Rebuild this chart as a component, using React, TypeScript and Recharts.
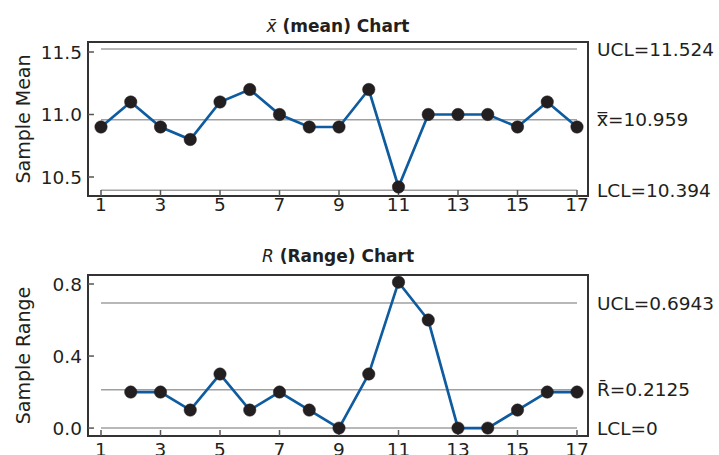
import {
  Line,
  LineChart,
  ReferenceArea,
  ReferenceLine,
  XAxis,
  YAxis,
} from "recharts";

const samples = [1, 2, 3, 4, 5, 6, 7, 8, 9, 10, 11, 12, 13, 14, 15, 16, 17];
const sampleMeans = [
  10.9, 11.1, 10.9, 10.8, 11.1, 11.2, 11.0, 10.9, 10.9, 11.2, 10.42, 11.0, 11.0,
  11.0, 10.9, 11.1, 10.9,
];
const sampleRanges = [
  null, 0.2, 0.2, 0.1, 0.3, 0.1, 0.2, 0.1, 0.0, 0.3, 0.81, 0.6, 0.0, 0.0, 0.1,
  0.2, 0.2,
];
const xTicks = [1, 3, 5, 7, 9, 11, 13, 15, 17];
const meanTicks = [10.5, 11.0, 11.5];
const rangeTicks = [0, 0.4, 0.8];
const meanLimitValues = [11.524, 10.959, 10.394];
const meanLimitLabels = ["UCL=11.524", "x\u033F=10.959", "LCL=10.394"];
const rangeLimitValues = [0.6943, 0.2125, 0];
const rangeLimitLabels = ["UCL=0.6943", "R\u0304=0.2125", "LCL=0"];

const FONT = "'DejaVu Sans', sans-serif";
const LINE_BLUE = "#0e5c9f";
const DOT_BLACK = "#231f20";
const FRAME = "#333333";
const LIMIT_GRAY = "#a0a0a0";
const X_DOMAIN: [number, number] = [0.563, 17.37];

const meanData = samples.map((s, i) => ({ sample: s, value: sampleMeans[i] }));
const rangeData = samples.map((s, i) => ({ sample: s, value: sampleRanges[i] }));

const tickStyle = { fill: "#231f20", fontSize: 18.5, fontFamily: FONT };

interface ControlChartProps {
  data: { sample: number; value: number | null }[];
  height: number;
  top: number;
  yDomain: [number, number];
  yTicks: number[];
  yLabel: string;
  limits: number[];
  limitLabels: string[];
  xTickMargin: number;
}

function ControlChart({
  data,
  height,
  top,
  yDomain,
  yTicks,
  yLabel,
  limits,
  limitLabels,
  xTickMargin,
}: ControlChartProps) {
  return (
    <LineChart
      width={719}
      height={height}
      data={data}
      margin={{ top, right: 131, bottom: 0, left: 0 }}
      style={{ fontFamily: FONT }}
    >
      <XAxis
        dataKey="sample"
        type="number"
        domain={X_DOMAIN}
        ticks={xTicks}
        allowDataOverflow
        height={19}
        tickSize={-6}
        tickMargin={xTickMargin}
        interval={0}
        tick={tickStyle}
        axisLine={{ stroke: FRAME, strokeWidth: 2 }}
        tickLine={{ stroke: "#555", strokeWidth: 1.5 }}
      />
      <YAxis
        type="number"
        domain={yDomain}
        ticks={yTicks}
        allowDataOverflow
        width={88}
        tickSize={-6}
        tickMargin={12}
        interval={0}
        tick={tickStyle}
        tickFormatter={(v: number) => v.toFixed(1)}
        axisLine={{ stroke: FRAME, strokeWidth: 2 }}
        tickLine={{ stroke: "#555", strokeWidth: 1.5 }}
        label={{
          value: yLabel,
          angle: -90,
          position: "insideLeft",
          offset: 23,
          style: {
            textAnchor: "middle",
            fill: "#231f20",
            fontSize: 19,
            fontFamily: FONT,
          },
        }}
      />
      {/* plot frame */}
      <ReferenceArea
        x1={X_DOMAIN[0]}
        x2={X_DOMAIN[1]}
        y1={yDomain[0]}
        y2={yDomain[1]}
        fill="none"
        fillOpacity={0}
        stroke={FRAME}
        strokeWidth={2}
        ifOverflow="visible"
      />
      {limits.map((v, i) => (
        <ReferenceLine
          key={limitLabels[i]}
          segment={[
            { x: 1, y: v },
            { x: 17, y: v },
          ]}
          stroke={LIMIT_GRAY}
          strokeWidth={1.5}
          label={{
            value: limitLabels[i],
            position: "right",
            offset: 20,
            fill: "#231f20",
            fontSize: 18.5,
            fontFamily: FONT,
          }}
        />
      ))}
      <Line
        dataKey="value"
        stroke={LINE_BLUE}
        strokeWidth={2.7}
        dot={{ r: 6.2, fill: DOT_BLACK, stroke: DOT_BLACK, strokeWidth: 0.5 }}
        activeDot={false}
        isAnimationActive={false}
      />
    </LineChart>
  );
}

const titleStyle = {
  position: "absolute" as const,
  left: 88,
  width: 500,
  textAlign: "center" as const,
  fontFamily: FONT,
  fontWeight: "bold" as const,
  fontSize: 17,
  lineHeight: "17px",
  color: "#231f20",
};

export default function App() {
  return (
    <div
      style={{
        position: "absolute",
        left: 0,
        top: 0,
        width: 719,
        height: 455,
        background: "#fff",
        overflow: "hidden",
      }}
    >
      <div style={{ ...titleStyle, top: 17.5 }}>
        <span style={{ fontStyle: "italic", fontWeight: "normal" }}>
          {"x\u0304"}
        </span>{" "}
        (mean) Chart
      </div>
      <div style={{ position: "absolute", left: 0, top: 0 }}>
        <ControlChart
          data={meanData}
          height={215}
          top={42}
          yDomain={[10.348, 11.58]}
          yTicks={meanTicks}
          yLabel="Sample Mean"
          limits={meanLimitValues}
          limitLabels={meanLimitLabels}
          xTickMargin={8}
        />
      </div>
      <div style={{ ...titleStyle, top: 247.5 }}>
        <span style={{ fontStyle: "italic", fontWeight: "normal" }}>R</span>{" "}
        (Range) Chart
      </div>
      <div style={{ position: "absolute", left: 0, top: 215 }}>
        <ControlChart
          data={rangeData}
          height={240}
          top={60}
          yDomain={[-0.044, 0.85]}
          yTicks={rangeTicks}
          yLabel="Sample Range"
          limits={rangeLimitValues}
          limitLabels={rangeLimitLabels}
          xTickMargin={13}
        />
      </div>
    </div>
  );
}
